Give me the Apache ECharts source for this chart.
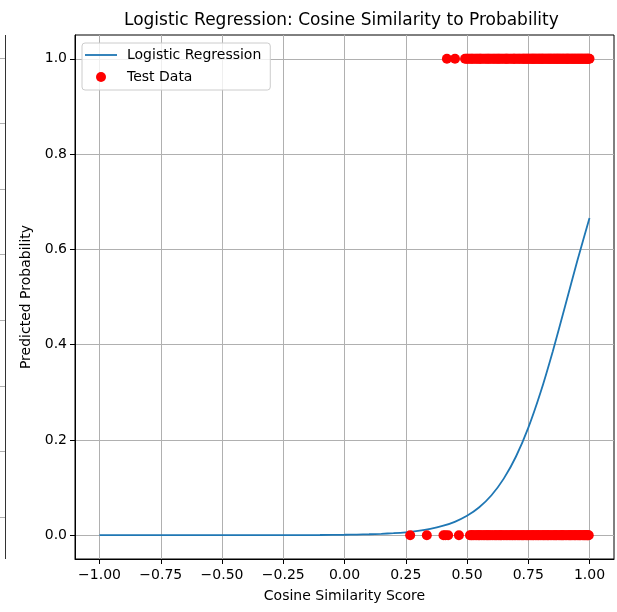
<!DOCTYPE html>
<html>
<head>
<meta charset="utf-8">
<script src="https://cdn.jsdelivr.net/npm/echarts@6/dist/echarts.min.js"></script>
<style>html,body{margin:0;padding:0;background:#fff;}#c{width:617px;height:612px;}</style>
</head>
<body>
<div id="c"></div>
<script>
// Logistic curve
var curveX = [-1.00, -0.75, -0.50, -0.25, -0.10, 0.00, 0.05, 0.10, 0.15, 0.20, 0.25, 0.30, 0.35, 0.40, 0.45, 0.50, 0.55, 0.60, 0.65, 0.70, 0.75, 0.80, 0.85, 0.90, 0.95, 1.00];
var curveY = [0.0000, 0.0000, 0.0000, 0.0001, 0.0004, 0.0009, 0.0013, 0.0020, 0.0029, 0.0042, 0.0061, 0.0090, 0.0132, 0.0193, 0.0281, 0.0407, 0.0587, 0.0839, 0.1187, 0.1652, 0.2253, 0.2994, 0.3858, 0.4800, 0.5757, 0.6660];

// Test data (cosine similarity), class 1 and class 0
var testX1 = [0.418, 0.451, 0.492, 0.498, 0.503, 0.509, 0.515, 0.520, 0.524, 0.531, 0.537, 0.542, 0.548, 0.553, 0.556, 0.562, 0.569, 0.575, 0.581, 0.586, 0.590, 0.596, 0.602, 0.608, 0.613, 0.619, 0.624, 0.629, 0.633, 0.639, 0.645, 0.651, 0.657, 0.661, 0.664, 0.670, 0.676, 0.682, 0.688, 0.692, 0.695, 0.701, 0.707, 0.712, 0.716, 0.722, 0.728, 0.731, 0.735, 0.740, 0.744, 0.748, 0.752, 0.757, 0.761, 0.765, 0.768, 0.772, 0.775, 0.779, 0.783, 0.787, 0.791, 0.795, 0.798, 0.802, 0.806, 0.809, 0.812, 0.817, 0.821, 0.825, 0.829, 0.833, 0.836, 0.840, 0.843, 0.847, 0.851, 0.855, 0.858, 0.862, 0.866, 0.869, 0.872, 0.876, 0.879, 0.883, 0.887, 0.891, 0.894, 0.898, 0.902, 0.906, 0.909, 0.912, 0.915, 0.919, 0.923, 0.927, 0.930, 0.934, 0.938, 0.941, 0.945, 0.949, 0.952, 0.956, 0.959, 0.963, 0.966, 0.970, 0.973, 0.977, 0.981, 0.984, 0.988, 0.991, 0.994, 0.997, 1.000];
var testX0 = [0.268, 0.336, 0.404, 0.412, 0.423, 0.467, 0.512, 0.517, 0.521, 0.527, 0.533, 0.539, 0.545, 0.549, 0.553, 0.560, 0.566, 0.572, 0.578, 0.583, 0.587, 0.593, 0.598, 0.605, 0.611, 0.617, 0.622, 0.628, 0.634, 0.638, 0.642, 0.649, 0.655, 0.661, 0.667, 0.673, 0.679, 0.684, 0.688, 0.694, 0.699, 0.705, 0.711, 0.716, 0.722, 0.727, 0.731, 0.737, 0.743, 0.748, 0.752, 0.758, 0.764, 0.769, 0.773, 0.779, 0.785, 0.790, 0.794, 0.800, 0.806, 0.811, 0.815, 0.820, 0.826, 0.830, 0.834, 0.840, 0.846, 0.852, 0.857, 0.862, 0.866, 0.872, 0.878, 0.883, 0.887, 0.891, 0.895, 0.901, 0.907, 0.913, 0.918, 0.922, 0.926, 0.932, 0.937, 0.941, 0.945, 0.951, 0.956, 0.960, 0.964, 0.970, 0.975, 0.979, 0.983, 0.987, 0.991, 0.994, 0.997];

var xTicks = [-1.00, -0.75, -0.50, -0.25, 0.00, 0.25, 0.50, 0.75, 1.00];
var yTicks = [0.0, 0.2, 0.4, 0.6, 0.8, 1.0];
var leftPanelGrid = [0, 1, 2, 3, 4, 5, 6, 7];

var FONT = 'DejaVu Sans';
function minus(s) { return s.replace('-', '\u2212'); }

var lineData = curveX.map(function (x, i) { return [x, curveY[i]]; });
var scatterData = testX1.map(function (x) { return [x, 1]; })
  .concat(testX0.map(function (x) { return [x, 0]; }));

var chart = echarts.init(document.getElementById('c'), null, { renderer: 'canvas' });
chart.setOption({
  backgroundColor: '#ffffff',
  animation: false,
  title: {
    text: 'Logistic Regression: Cosine Similarity to Probability',
    left: 124, top: 12, padding: 0,
    textStyle: { fontFamily: FONT, fontSize: 17, fontWeight: 'normal', color: '#000' }
  },
  legend: {
    orient: 'vertical',
    left: 82, top: 43,
    padding: [5, 9, 6, 3],
    itemWidth: 32, itemHeight: 10, itemGap: 8,
    backgroundColor: 'rgba(255,255,255,0.8)',
    borderColor: '#cccccc', borderWidth: 1, borderRadius: 3,
    textStyle: { fontFamily: FONT, fontSize: 14, color: '#000', padding: [0, 0, 0, 5] },
    data: [
      { name: 'Logistic Regression', icon: 'path://M0,4.1 L32,4.1 L32,5.9 L0,5.9 Z' },
      { name: 'Test Data', icon: 'circle' }
    ]
  },
  grid: [
    { left: 75, right: 3, top: 35, bottom: 53, show: true, borderColor: '#000', borderWidth: 1, backgroundColor: 'transparent' },
    { left: 0, width: 5, top: 58, bottom: 95, show: false }
  ],
  xAxis: [{
    gridIndex: 0, type: 'value', min: -1.1, max: 1.1,
    name: 'Cosine Similarity Score', nameLocation: 'middle', nameGap: 30,
    nameTextStyle: { fontFamily: FONT, fontSize: 14, color: '#000' },
    axisLine: { show: true, onZero: false, lineStyle: { color: '#000', width: 1 } },
    axisTick: { show: true, length: 5, lineStyle: { color: '#000' }, customValues: xTicks },
    axisLabel: { show: true, margin: 9, fontFamily: FONT, fontSize: 14, color: '#000',
      customValues: xTicks,
      formatter: function (v) { return minus(v.toFixed(2)); } },
    splitLine: { show: true, lineStyle: { color: '#b0b0b0', width: 1 } },
    interval: 0.25
  }, {
    gridIndex: 1, type: 'value', show: false, min: 0, max: 1
  }],
  yAxis: [{
    gridIndex: 0, type: 'value', min: -0.05, max: 1.05,
    name: 'Predicted Probability', nameLocation: 'middle', nameGap: 42,
    nameTextStyle: { fontFamily: FONT, fontSize: 14, color: '#000' },
    axisLine: { show: true, onZero: false, lineStyle: { color: '#000', width: 1 } },
    axisTick: { show: true, length: 5, lineStyle: { color: '#000' }, customValues: yTicks },
    axisLabel: { show: true, margin: 8, fontFamily: FONT, fontSize: 14, color: '#000',
      customValues: yTicks,
      formatter: function (v) { return minus(v.toFixed(1)); } },
    splitLine: { show: true, lineStyle: { color: '#b0b0b0', width: 1 } }
  }, {
    gridIndex: 1, type: 'value', min: leftPanelGrid[0], max: leftPanelGrid[leftPanelGrid.length - 1], interval: 1,
    axisLine: { show: false }, axisTick: { show: false }, axisLabel: { show: false },
    splitLine: { show: true, lineStyle: { color: '#b0b0b0', width: 1 } }
  }],
  graphic: [{
    type: 'line', shape: { x1: 5.5, y1: 35, x2: 5.5, y2: 559 },
    style: { stroke: '#333', lineWidth: 1 }, z: 100
  }],
  series: [{
    name: 'Logistic Regression', type: 'line', xAxisIndex: 0, yAxisIndex: 0,
    data: lineData, symbol: 'none', smooth: 0.2,
    lineStyle: { color: '#1f77b4', width: 1.8 },
    itemStyle: { color: '#1f77b4' }, z: 3
  }, {
    name: 'Test Data', type: 'scatter', xAxisIndex: 0, yAxisIndex: 0,
    data: scatterData, symbol: 'circle', symbolSize: 10,
    itemStyle: { color: '#ff0000', opacity: 1 }, z: 4
  }]
});
</script>
</body>
</html>
